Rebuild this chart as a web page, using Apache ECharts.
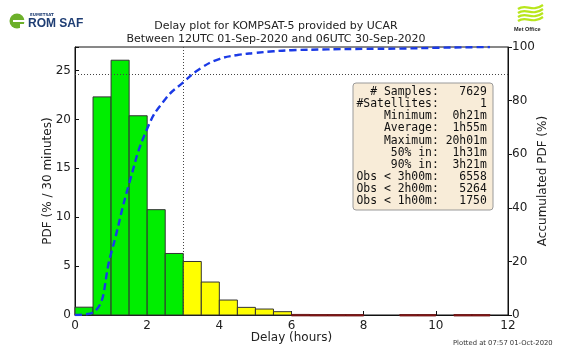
<!DOCTYPE html>
<html><head><meta charset="utf-8">
<script src="https://cdn.jsdelivr.net/npm/echarts@6/dist/echarts.min.js"></script>
<style>html,body{margin:0;padding:0;background:#fff}#c{width:562px;height:358px}</style>
</head><body><div id="c"></div>
<script>
// Histogram bins (hours): start, end, PDF (% / 30 minutes)
const binStart = [0,0.5,1,1.5,2,2.5,3,3.5,4,4.5,5,5.5,6,6.5,7,7.5,9,9.5,10.5,11];
const binEnd   = [0.5,1,1.5,2,2.5,3,3.5,4,4.5,5,5.5,6,6.5,7,7.5,8,9.5,10,11,11.5];
const pdfVals  = [0.8,22.3,26.05,20.37,10.77,6.29,5.47,3.37,1.53,0.78,0.61,0.34,0.06,0.05,0.05,0.05,0.05,0.05,0.05,0.05];
// Accumulated PDF (%)
const cdfX = [0,0.5,1,1.5,2,2.5,3,3.5,4,4.5,5,5.5,6,7,8,9,10,11.5];
const cdfY = [0,1,23,49,69.5,80.5,86.8,92.2,95.5,97,97.8,98.4,98.8,99.1,99.3,99.4,99.7,100];
const xTicks = [0,2,4,6,8,10,12];
const yLeftTicks = [0,5,10,15,20,25];
const yRightTicks = [0,20,40,60,80,100];
const statsLines = [
"  # Samples:   7629",
"#Satellites:      1",
"    Minimum:  0h21m",
"    Average:  1h55m",
"    Maximum: 20h01m",
"     50% in:  1h31m",
"     90% in:  3h21m",
"Obs < 3h00m:   6558",
"Obs < 2h00m:   5264",
"Obs < 1h00m:   1750"];
const titleLines = ["Delay plot for KOMPSAT-5 provided by UCAR","Between 12UTC 01-Sep-2020 and 06UTC 30-Sep-2020"];

const FONT = "DejaVu Sans";
const chart = echarts.init(document.getElementById('c'), null, {renderer:'canvas'});
const barData = binStart.map((s,i)=>[s,binEnd[i],pdfVals[i]]);
function binColor(s){ return s<3 ? '#00ee00' : (s<6 ? '#ffff00' : '#8b1a1a'); }
function wave(dy){
  return {type:'bezierCurve',shape:{x1:518,y1:9+dy,cpx1:526,cpy1:3+dy,cpx2:532,cpy2:13+dy,x2:543,y2:5+dy},
    style:{stroke:'#b8e61c',lineWidth:2.2,fill:null}};
}

const option = {
  animation:false,
  backgroundColor:'#fff',
  title:{
    text: titleLines.join('\n'), left:271, top:15, textAlign:'center',
    textStyle:{fontFamily:FONT,fontSize:11,fontWeight:'normal',color:'#222',lineHeight:12.7}
  },
  grid:{left:75,right:54,top:47,bottom:43,show:true,borderColor:'#111',borderWidth:1,backgroundColor:'transparent'},
  xAxis:{type:'value',min:0,max:12,interval:2,
    axisLine:{lineStyle:{color:'#111'}},
    axisTick:{inside:true,length:4,lineStyle:{color:'#111'}},
    axisLabel:{fontFamily:FONT,fontSize:12,color:'#222',margin:5},
    splitLine:{show:false},
    name:'Delay (hours)',nameLocation:'middle',nameGap:17,nameMoveOverlap:false,
    nameTextStyle:{fontFamily:FONT,fontSize:12,color:'#222'}
  },
  yAxis:[{type:'value',min:0,max:27.4,interval:5,position:'left',
    axisLine:{show:true,lineStyle:{color:'#111'}},
    axisTick:{show:true,inside:true,length:4,lineStyle:{color:'#111'}},
    axisLabel:{fontFamily:FONT,fontSize:12,color:'#222',margin:4,
      formatter:function(v){ return yLeftTicks.indexOf(v)>=0 ? String(v) : ''; }},
    splitLine:{show:false},
    name:'PDF (% / 30 minutes)',nameLocation:'middle',nameGap:21,nameRotate:90,nameMoveOverlap:false,
    nameTextStyle:{fontFamily:FONT,fontSize:12,color:'#222'}
  },{type:'value',min:0,max:100,interval:20,position:'right',
    axisLine:{show:true,lineStyle:{color:'#111'}},
    axisTick:{show:true,inside:false,length:4,lineStyle:{color:'#111'}},
    axisLabel:{fontFamily:FONT,fontSize:12,color:'#222',margin:4},
    splitLine:{show:false},
    name:'Accumulated PDF (%)',nameLocation:'middle',nameGap:29,nameRotate:90,nameMoveOverlap:false,
    nameTextStyle:{fontFamily:FONT,fontSize:12,color:'#222'}
  }],
  series:[{
    type:'custom',yAxisIndex:0,data:barData,z:2,
    encode:{x:[0,1],y:2},
    renderItem:function(params,api){
      const p0 = api.coord([api.value(0),0]);
      const p1 = api.coord([api.value(1),api.value(2)]);
      const s = api.value(0);
      const tail = s>=6;
      return {type:'rect',shape:{x:p0[0],y:p1[1],width:p1[0]-p0[0],height:Math.max(p0[1]-p1[1], tail?1.5:0)},
        style:{fill:binColor(s),stroke:tail?'#6b1010':'#333',lineWidth:tail?0.8:1}};
    }
  },{
    type:'line',yAxisIndex:1,z:5,
    data:cdfX.map((x,i)=>[x,cdfY[i]]),
    smooth:0.5,showSymbol:false,
    lineStyle:{color:'#1b3ae6',width:2.4,type:[7,4]},
    markLine:{silent:true,symbol:'none',label:{show:false},
      lineStyle:{color:'#444',width:1,type:[1,2]},
      data:[{yAxis:90},{xAxis:3}]}
  }],
  graphic:[
    {type:'rect',x:353,y:83,shape:{x:0,y:0,width:140,height:127,r:3},style:{fill:'#f8ecd8',stroke:'#9a9a9a',lineWidth:1},z:10},
    {type:'text',x:356.5,y:86,style:{text:statsLines.join('\n'),font:'11.4px "DejaVu Sans Mono"',fill:'#111',lineHeight:12.15},z:11},
    {type:'text',x:453,y:340,style:{text:'Plotted at 07:57 01-Oct-2020',font:'6.8px "DejaVu Sans"',fill:'#333'}},
    // ROM SAF logo
    {type:'circle',shape:{cx:17,cy:21,r:7.5},style:{fill:'#6cb02a'}},
    {type:'rect',shape:{x:13,y:20,width:14,height:2},style:{fill:'#fff'}},
    {type:'rect',shape:{x:20,y:24,width:8,height:6},style:{fill:'#fff'}},
    {type:'text',x:30,y:12.5,style:{text:'EUMETSAT',font:'bold 4px "DejaVu Sans"',fill:'#1e3d73'}},
    {type:'text',x:28,y:18,style:{text:'ROM SAF',font:'bold 12px "Liberation Sans"',fill:'#1e3d73'}},
    // Met Office logo
    wave(0),wave(4),wave(8),wave(12),
    {type:'text',x:514,y:26,style:{text:'Met Office',font:'bold 5.5px "Liberation Sans"',fill:'#222'}}
  ]
};
chart.setOption(option);
</script></body></html>
